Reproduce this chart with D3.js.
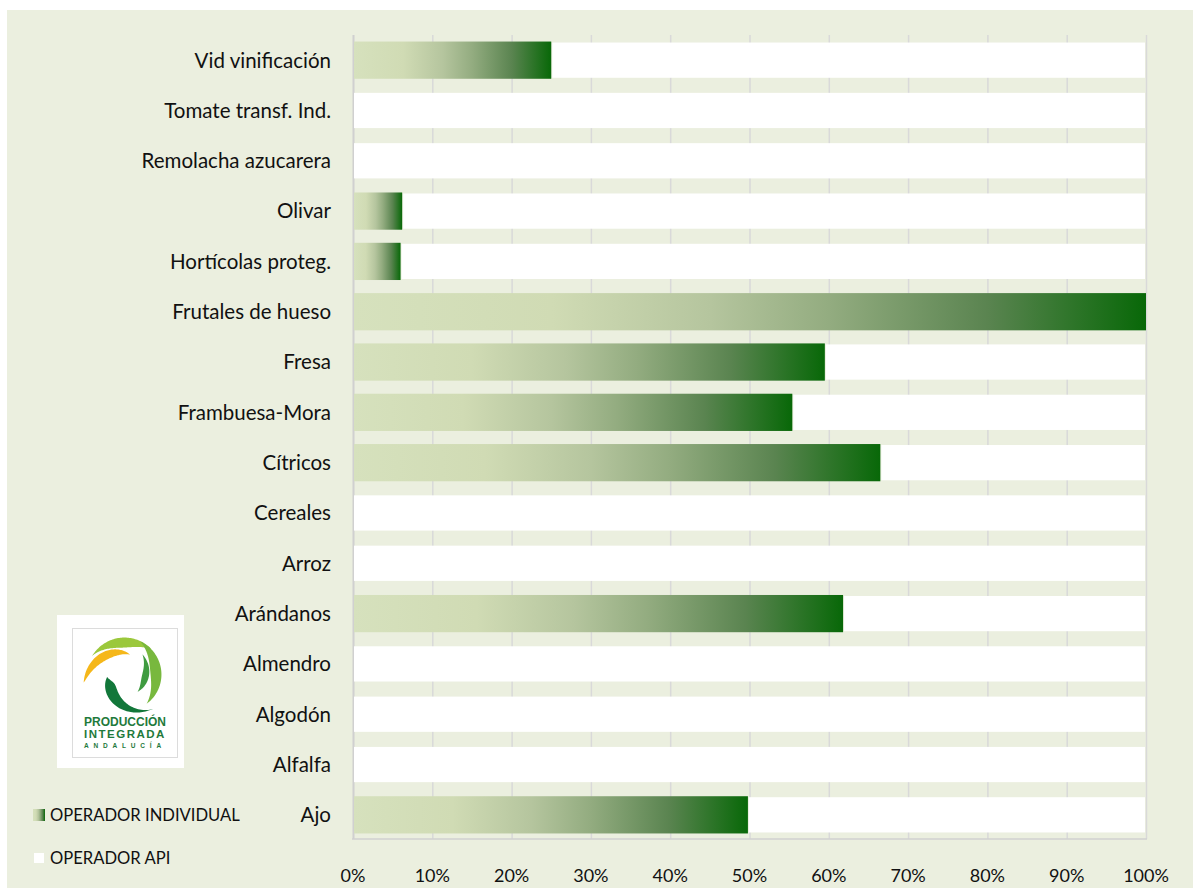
<!DOCTYPE html>
<html><head><meta charset="utf-8">
<script src="https://cdn.jsdelivr.net/npm/d3@7"></script>
<style>
html,body{margin:0;padding:0;background:#fff;}
svg{display:block;font-family:Lato, "Open Sans", sans-serif;}
</style></head>
<body>
<svg id="chart" width="1193" height="892"></svg>
<script>
const categories = ["Vid vinificación","Tomate transf. Ind.","Remolacha azucarera","Olivar","Hortícolas proteg.","Frutales de hueso","Fresa","Frambuesa-Mora","Cítricos","Cereales","Arroz","Arándanos","Almendro","Algodón","Alfalfa","Ajo"];
const individual = [25, 0, 0, 6.2, 6.0, 100, 59.5, 55.4, 66.5, 0, 0, 61.8, 0, 0, 0, 49.8];
const api = individual.map(v => 100 - v);
const xTicks = [0,10,20,30,40,50,60,70,80,90,100];
const legendLabels = ["OPERADOR INDIVIDUAL","OPERADOR API"];

const svg = d3.select("#chart");
const bg = "#ebefdf";
svg.append("rect").attr("x",7).attr("y",10).attr("width",1186).attr("height",878).attr("fill",bg);

const defs = svg.append("defs");
const grad = defs.append("linearGradient").attr("id","g").attr("x1","0%").attr("x2","100%").attr("y1","0%").attr("y2","0%");
[[0,"#d6e1bd"],[0.25,"#d0dbb4"],[0.45,"#b5c59e"],[0.6,"#93ac80"],[0.8,"#5a8450"],[1,"#086808"]].forEach(([o,c])=>grad.append("stop").attr("offset",o).attr("stop-color",c));

const x = d3.scaleLinear().domain([0,100]).range([353,1146]);
const y = d3.scaleBand().domain(categories).range([35,840]).paddingInner(0.26).paddingOuter(0.13);

// gridlines
svg.append("g").selectAll("line").data(xTicks).join("line")
  .attr("x1",d=>x(d)+0.5).attr("x2",d=>x(d)+0.5).attr("y1",35).attr("y2",839)
  .attr("stroke",d=>d===0?"#d0d0d0":"#d9d9d9").attr("stroke-width",d=>d===0?2:1.5);
svg.append("line").attr("x1",352).attr("x2",1147).attr("y1",839).attr("y2",839).attr("stroke","#d0d0d0").attr("stroke-width",1.5);

// bars
const g = svg.append("g");
categories.forEach((c,i)=>{
  if(individual[i]>0){
    g.append("rect").attr("x",x(0)+1).attr("y",y(c)).attr("width",x(individual[i])-x(0)-1).attr("height",y.bandwidth()).attr("fill","url(#g)");
  }
  if(api[i]>0){
    g.append("rect").attr("x",x(individual[i])+1).attr("y",y(c)+1).attr("width",x(100)-x(individual[i])-2).attr("height",y.bandwidth()-2).attr("fill","#ffffff");
  }
});

// category labels
svg.append("g").selectAll("text").data(categories).join("text")
  .attr("x",331).attr("y",d=>y(d)+y.bandwidth()/2).attr("dy","0.36em")
  .attr("text-anchor","end").attr("font-size",20.5).attr("fill","#111").text(d=>d);

// x tick labels
svg.append("g").selectAll("text").data(xTicks).join("text")
  .attr("x",d=>x(d)).attr("y",876).attr("dy","0.36em").attr("text-anchor","middle")
  .attr("font-size",18).attr("fill","#111").text(d=>d+"%");

// legend
const lg = svg.append("g");
lg.append("rect").attr("x",33).attr("y",809).attr("width",12).attr("height",12).attr("fill","url(#g)");
lg.append("rect").attr("x",34).attr("y",853).attr("width",10).attr("height",10).attr("fill","#fff");
lg.selectAll("text").data(legendLabels).join("text")
  .attr("x",50).attr("y",(d,i)=>i===0?815:858).attr("dy","0.36em").attr("font-size",16.6).attr("fill","#111").text(d=>d);

// logo
const logo = svg.append("g");
logo.append("rect").attr("x",57).attr("y",615).attr("width",127).attr("height",153).attr("fill","#fff");
logo.append("rect").attr("x",72.5).attr("y",628.5).attr("width",105).attr("height",129).attr("fill","none").attr("stroke","#dcdcdc").attr("stroke-width",1);
const cx=125, cy=675;
function arm(R0, R1, w, a0, a1, col, p=1){
  const n=60, pts=[];
  for(let k=0;k<=n;k++){const u=k/n; const t=a0+(a1-a0)*u; const R=R0+(R1-R0)*u; pts.push([R*Math.sin(t), -R*Math.cos(t)]);}
  for(let k=n;k>=0;k--){const u=k/n; const t=a0+(a1-a0)*u; const R=R0+(R1-R0)*u; const r=R-w*Math.sin(Math.PI*Math.pow(u,p)); pts.push([r*Math.sin(t), -r*Math.cos(t)]);}
  logo.append("path").attr("transform",`translate(${cx},${cy})`).attr("d",d3.line()(pts)+"Z").attr("fill",col);
}
arm(38, 37, 10, -1.05, 0.8, "#9bc83c", 1.1);     // top light green
arm(42, 21, 9, -1.75, 0.25, "#f5b71a", 0.8);     // yellow
arm(37, 36, 11, 0.42, 2.5, "#78b83e", 1);        // right outer green
arm(27, 21, 7, 0.7, 2.5, "#3f9b40", 1);          // right inner green
arm(44, 18, 13, 2.45, 4.6, "#12773a", 1.3);      // dark green bottom-left
const lf = "Liberation Sans, Arial, sans-serif";
logo.append("text").attr("x",125).attr("y",726).attr("text-anchor","middle").attr("font-family",lf).attr("font-weight","bold").attr("font-size",12).attr("fill","#1f7a3c").text("PRODUCCIÓN");
logo.append("text").attr("x",125).attr("y",738).attr("text-anchor","middle").attr("font-family",lf).attr("font-weight","bold").attr("font-size",11.5).attr("letter-spacing",1.5).attr("fill","#1f7a3c").text("INTEGRADA");
logo.append("text").attr("x",125).attr("y",748).attr("text-anchor","middle").attr("font-family",lf).attr("font-weight","bold").attr("font-size",6.5).attr("letter-spacing",4.8).attr("fill","#1f7a3c").text("ANDALUCÍA");
</script>
</body></html>
